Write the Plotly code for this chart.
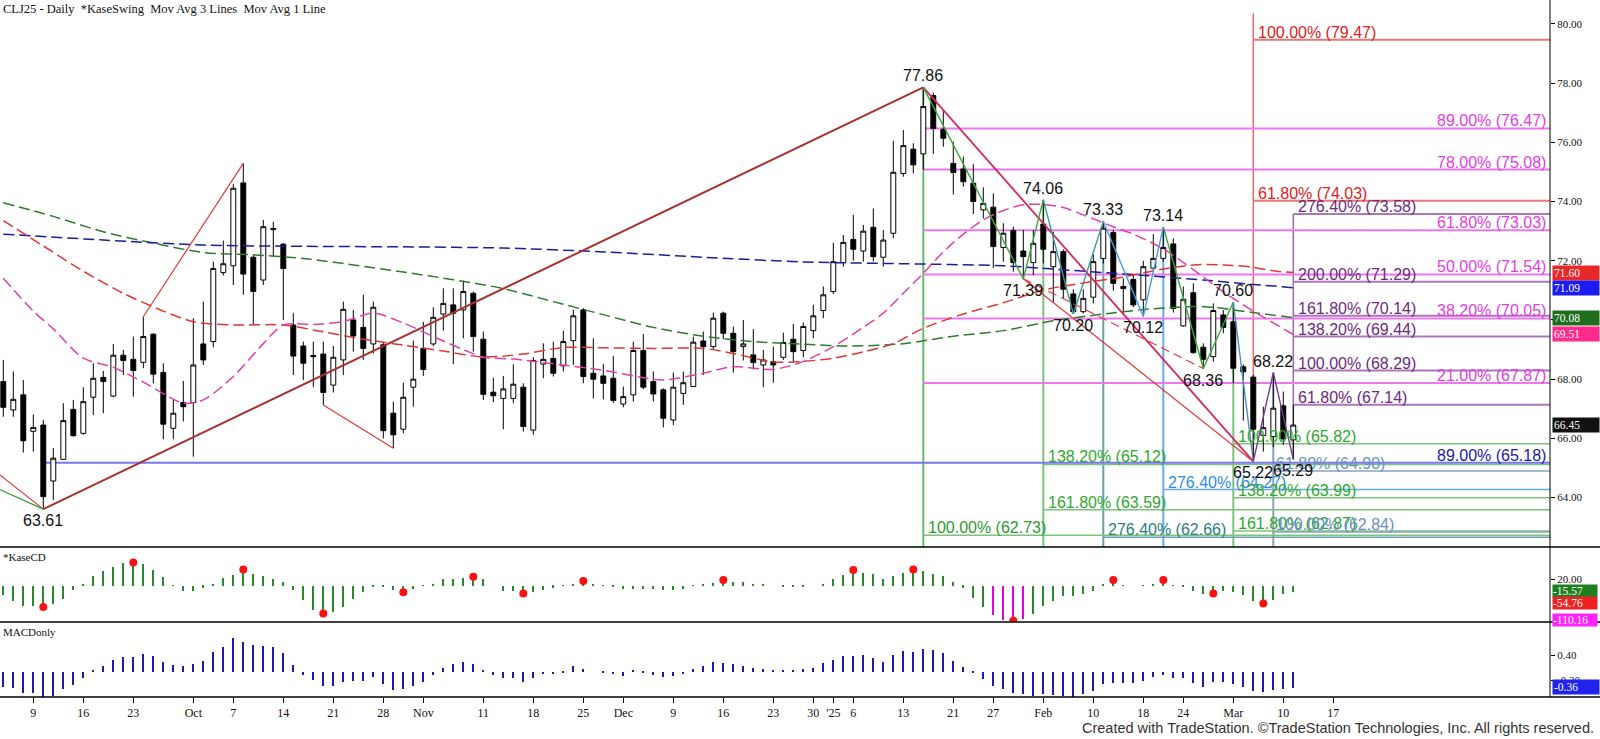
import plotly.graph_objects as go

# ---------------- data ----------------
bar_idx = list(range(130))
open_p = [67.92,66.96,67.47,66.24,66.45,64.56,65.29,66.98,66.17,67.39,
          68.06,67.43,68.81,68.67,68.57,69.52,68.23,66.34,67.21,67.21,
          69.19,69.27,71.60,71.83,74.63,72.12,71.35,73.05,72.56,69.83,
          69.12,68.80,68.85,67.80,68.65,70.00,69.75,69.19,69.16,66.85,
          66.31,67.73,69.04,69.19,70.20,70.51,70.34,70.90,69.35,67.56,
          67.35,67.35,67.73,66.28,68.51,68.70,68.45,69.30,70.34,68.20,
          68.11,68.03,67.16,67.47,68.97,67.92,67.64,66.62,67.52,67.75,
          69.29,69.10,70.23,69.55,69.10,68.82,68.48,68.59,68.74,69.35,
          68.97,69.64,70.32,70.96,71.94,72.72,72.33,73.13,72.12,72.93,
          74.95,75.77,75.61,77.58,76.44,75.29,75.10,74.62,73.72,73.81,
          72.45,73.02,72.33,71.94,73.24,71.80,72.31,70.88,70.28,70.77,
          72.08,72.95,71.13,71.37,70.68,71.75,72.08,72.57,69.80,70.92,
          69.08,68.76,70.17,69.94,68.42,68.07,66.10,66.06,67.10,65.95]
high_p = [68.65,68.26,67.97,66.81,66.62,65.67,67.19,67.30,67.73,68.54,
          68.28,69.19,68.99,69.44,70.11,69.55,68.54,67.30,67.94,70.06,
          70.62,71.97,72.68,74.59,75.29,72.20,73.38,73.32,72.60,70.23,
          69.27,69.27,69.27,69.12,70.62,70.34,70.85,70.62,69.24,67.24,
          67.88,69.30,69.94,70.43,71.07,71.07,71.33,70.96,69.61,68.05,
          68.11,68.50,67.86,68.74,69.21,69.27,69.64,70.34,70.40,69.38,
          68.51,68.78,67.75,69.27,69.53,68.26,67.69,68.22,68.26,69.44,
          69.61,70.25,70.28,69.78,70.00,69.69,68.99,69.10,69.57,69.87,
          69.91,70.51,71.13,72.61,72.87,73.55,73.21,73.77,73.04,76.05,
          76.42,75.97,77.86,77.68,77.09,76.02,75.52,75.26,74.48,74.28,
          73.27,73.15,73.04,73.04,74.06,72.98,72.39,71.04,71.04,72.22,
          73.33,73.04,71.41,71.52,72.00,72.90,73.14,72.76,71.13,71.24,
          69.21,70.56,70.34,70.60,68.50,68.15,67.07,68.22,67.58,67.13]
low_p = [66.73,66.73,65.52,65.55,63.61,63.92,65.29,66.06,66.12,66.79,
         66.85,67.39,68.14,67.41,68.37,67.86,65.97,65.97,66.57,65.38,
         68.48,69.08,71.50,71.18,70.85,69.83,71.18,72.14,70.00,68.14,
         67.97,67.73,67.13,67.55,68.14,68.93,68.65,68.87,66.00,65.67,
         66.17,67.07,68.11,69.12,69.64,68.51,69.38,68.93,67.30,67.22,
         66.31,67.19,66.23,66.12,68.03,68.09,68.26,68.48,67.86,67.35,
         67.32,67.19,67.05,67.24,67.66,67.24,66.37,66.45,67.13,67.75,
         68.14,69.02,69.35,68.22,68.63,68.33,67.73,67.88,68.65,68.59,
         68.74,69.38,70.06,70.88,71.80,72.00,71.97,71.97,71.80,72.76,
         74.84,74.95,75.07,75.61,75.85,74.24,74.50,73.58,73.43,71.75,
         71.97,71.63,71.39,71.52,71.91,70.60,70.73,70.20,70.22,70.56,
         71.91,70.99,70.22,70.43,70.12,71.69,71.97,70.25,69.77,68.85,
         68.36,68.59,69.55,67.86,66.60,65.22,65.55,65.70,65.78,65.29]
close_p = [67.05,67.32,65.92,66.37,64.03,65.33,66.60,66.09,67.24,68.03,
           67.92,68.81,68.63,68.29,69.44,68.17,66.48,66.85,67.07,68.48,
           68.65,71.74,71.90,74.45,71.55,70.96,73.15,73.09,71.74,68.78,
           68.54,68.76,67.55,68.74,70.36,69.46,69.04,70.43,66.26,66.12,
           67.39,68.00,68.33,70.09,70.56,70.23,70.96,69.44,67.49,67.44,
           67.67,67.83,66.40,68.63,68.67,68.20,69.27,70.14,68.09,68.00,
           67.86,67.28,67.41,68.97,67.73,67.50,66.68,67.73,67.88,69.25,
           69.10,70.06,69.55,68.93,69.19,68.56,68.65,68.48,69.24,68.93,
           69.78,70.14,70.85,71.97,72.62,72.39,73.00,72.14,72.70,74.99,
           75.89,75.24,77.21,76.47,76.14,74.98,74.67,74.00,73.94,72.48,
           72.93,71.94,72.14,72.59,72.39,72.31,71.04,70.28,70.73,71.97,
           73.10,71.24,71.06,70.51,71.80,72.08,72.45,70.39,70.70,68.90,
           68.67,70.32,69.75,68.37,68.25,66.31,66.36,67.02,65.98,66.45]

tick_idx = [3,8,13,19,23,28,33,38,42,48,53,58,62,67,72,77,81,83,85,90,95,99,104,109,114,118,123,128,133]
tick_text = ["9","16","23","Oct","7","14","21","28","Nov","11","18","25","Dec","9","16","23","30","'25","6","13","21","27","Feb","10","18","24","Mar","10","17"]

ma_green_idx = [0,5,10,15,20,25,30,35,40,45,50,55,60,65,70,75,80,85,90,95,100,105,110,115,120,125,129]
ma_green_val = [73.96,73.5,72.98,72.6,72.28,72.2,72.08,71.86,71.62,71.36,71.06,70.62,70.18,69.75,69.45,69.27,69.18,69.12,69.2,69.45,69.64,69.97,70.2,70.38,70.45,70.25,70.08]
ma_blue_idx = [0,10,20,30,40,50,60,70,80,90,100,105,110,115,120,125,129]
ma_blue_val = [72.90,72.7,72.53,72.49,72.47,72.43,72.3,72.12,71.96,71.9,71.83,71.72,71.6,71.48,71.35,71.2,71.09]
ma_red_idx = [0,4,8,12,16,19,23,28,32,36,40,44,48,52,56,60,65,70,73,77,80,83,86,89,92,96,100,104,108,112,116,119,122,125,127,129]
ma_red_val = [73.36,72.5,71.65,70.9,70.3,69.94,69.83,69.83,69.6,69.35,69.15,68.95,68.75,68.85,69.07,69.06,69.04,69.04,68.87,68.58,68.6,68.71,68.92,69.2,69.72,70.2,70.58,71.01,71.25,71.45,71.72,71.86,71.86,71.78,71.66,71.60]
ma_mag_idx = [0,3,5,8,11,14,18,20,23,26,28,31,34,37,40,43,46,48,51,55,60,64,66,70,73,77,80,83,86,88,90,92,94,96,98,100,102,104,106,108,111,113,116,119,122,125,127,129]
ma_mag_val = [71.41,70.3,69.7,68.71,68.4,67.9,67.19,67.3,68.09,69.2,69.83,69.85,69.95,70.23,69.9,69.44,69.0,68.74,68.68,68.52,68.3,68.05,67.97,68.2,68.42,68.33,68.6,69.1,69.75,70.23,70.9,71.58,72.3,72.9,73.38,73.7,73.89,73.9,73.8,73.55,73.15,72.9,72.4,71.7,70.95,70.3,69.9,69.51]

# swings
zz_idx = [92,102,104,107,110,114,116,120,123,125,127,129]
zz_val = [77.86,71.39,74.06,70.20,73.33,70.12,73.14,68.36,70.60,65.22,68.22,65.29]
zz_col = ["#3aa83a","#3aa83a","#3a9a9a","#3a9a9a","#4a9ee0","#4a9ee0","#3aa83a","#3aa83a","#4a90c0","#7a3a8a","#7a3a8a"]
swing_lbl_idx = [4,92,102,104,107,110,114,116,120,123,125,127,129]
swing_lbl_val = [63.61,77.86,71.39,74.06,70.20,73.33,70.12,73.14,68.36,70.60,65.22,68.22,65.29]
swing_lbl_up = [False,True,False,True,False,True,False,True,False,True,False,True,False]

long_up_idx = [4,92];   long_up_val = [63.61,77.86]
down_a_idx = [92,125];  down_a_val = [77.86,65.22]
down_b_idx = [102,125]; down_b_val = [71.39,65.22]
dash_tr_idx = [102,120]; dash_tr_val = [71.39,68.36]
red_seg1_idx = [14,24];  red_seg1_val = [70.11,75.29]
red_seg2_idx = [32,39];  red_seg2_val = [67.13,65.67]
edge_red_idx = [-0.4,4]; edge_red_val = [64.78,63.61]
edge_grn_idx = [-0.4,4]; edge_grn_val = [64.28,63.61]

# fib levels
fib_mag_pct = ["89.00%","78.00%","61.80%","50.00%","38.20%","21.00%"]
fib_mag_val = [76.47,75.08,73.03,71.54,70.05,67.87]
fib_red_pct = ["100.00%","61.80%"];  fib_red_val = [79.47,74.03]
fib_pur_pct = ["276.40%","200.00%","161.80%","138.20%","100.00%","61.80%"]
fib_pur_val = [73.58,71.29,70.14,69.44,68.29,67.14]
fib_g1_pct = ["100.00%"]; fib_g1_val = [62.73]
fib_g2_pct = ["138.20%","161.80%"]; fib_g2_val = [65.12,63.59]
fib_teal_pct = ["276.40%"]; fib_teal_val = [62.66]
fib_blue_pct = ["276.40%"]; fib_blue_val = [64.27]
fib_g3_pct = ["100.00%","138.20%","161.80%"]; fib_g3_val = [65.82,63.99,62.87]
fib_grey_pct = ["61.80%","100.00%"]; fib_grey_val = [64.90,62.84]
fib_navy_pct = ["89.00%"]; fib_navy_val = [65.18]

kase = [-30,-49,-65,-65,-62,-57,-41,-14,7,32, 48,59,73,77,69,51,29,2,-18,-16,
        -6,7,26,34,45,39,32,21,13,-14, -46,-78,-89,-85,-67,-41,-19,-3,-3,-14,
        -21,-9,2,7,20,21,26,23,21,0, -16,-17,-28,-21,-14,-6,2,7,10,5,
        2,-3,-11,-11,-11,-9,-14,-14,-11,2, 4,10,13,13,11,7,4,0,-3,-3,
        -3,0,7,21,34,47,42,39,23,31, 42,55,47,37,31,13,-6,-38,-67,-94,
        -110,-117,-105,-91,-65,-49,-33,-33,-25,-17, 4,13,2,0,2,7,13,2,-3,-17,
        -25,-28,-17,-19,-30,-48,-57,-46,-28,-19]
kase_extreme_idx = [99,100,101,102]
kase_dot_idx = [4,13,24,32,40,47,52,58,72,85,91,101,111,116,121,126]
kase_dot_val = [-68,74,52,-89,-21,29,-25,15,18,50,52,-112,18,18,-25,-57]

macd = [-0.36,-0.40,-0.50,-0.50,-0.62,-0.58,-0.42,-0.32,-0.14,0.02, 0.14,0.28,0.36,0.35,0.42,0.38,0.24,0.16,0.14,0.19,
        0.26,0.48,0.60,0.82,0.72,0.64,0.62,0.60,0.46,0.16, -0.08,-0.20,-0.34,-0.34,-0.24,-0.22,-0.22,-0.12,-0.30,-0.44,
        -0.42,-0.34,-0.24,-0.08,0.08,0.18,0.24,0.19,0.02,-0.08, -0.14,-0.16,-0.24,-0.14,-0.06,-0.06,-0.02,0.14,0.06,0.0,
        -0.04,-0.06,-0.10,0.02,-0.04,-0.08,-0.12,-0.10,-0.06,0.06, 0.14,0.24,0.22,0.18,0.14,0.10,0.06,0.04,0.04,0.04,
        0.06,0.08,0.20,0.28,0.38,0.38,0.40,0.32,0.24,0.40, 0.50,0.48,0.54,0.52,0.44,0.26,0.12,-0.04,-0.18,-0.34,
        -0.42,-0.50,-0.54,-0.58,-0.54,-0.56,-0.58,-0.60,-0.54,-0.46, -0.30,-0.28,-0.28,-0.28,-0.22,-0.12,-0.08,-0.14,-0.16,-0.26,
        -0.36,-0.24,-0.24,-0.30,-0.36,-0.46,-0.48,-0.44,-0.42,-0.38]

main_boxes = [("71.60",71.60,"#e82828"),("71.09",71.09,"#1c1cf0"),("70.08",70.08,"#1e6e1e"),("69.51",69.51,"#ff2a8a"),("66.45",66.45,"#111111")]
kase_boxes = [("-15.57",-15.57,"#1f7f1f"),("-54.76",-54.76,"#ee2222"),("-110.16",-110.16,"#ff22ff")]
macd_boxes = [("-0.36",-0.36,"#2222ee")]

# ---------------- layout geometry ----------------
W, H = 1600, 739
PL, PR, PT, PB = 0, 50, 0, 42
PH = H - PT - PB
XR = [-0.33, 154.67]
Y1 = [62.33, 80.81]
Y2 = [-116.2, 123.8]
Y3 = [-0.607, 1.193]
d1 = 1 - 547 / PH
d2 = 1 - 622 / PH

def yp(px):
    return 1 - px / PH

fig = go.Figure()

fig.add_trace(go.Candlestick(
    x=bar_idx, open=open_p, high=high_p, low=low_p, close=close_p,
    increasing=dict(line=dict(color="black", width=1), fillcolor="white"),
    decreasing=dict(line=dict(color="black", width=1), fillcolor="black"),
    whiskerwidth=0, showlegend=False, hoverinfo="skip"))

def ma(xs, ys, col):
    fig.add_trace(go.Scatter(x=xs, y=ys, mode="lines", line=dict(color=col, width=1.5, dash="11px,5px", shape="spline", smoothing=0.8),
                             showlegend=False, hoverinfo="skip"))

ma(ma_green_idx, ma_green_val, "#2e7a2e")
ma(ma_blue_idx, ma_blue_val, "#1c1c9c")
ma(ma_red_idx, ma_red_val, "#e03535")
ma(ma_mag_idx, ma_mag_val, "#e040a8")

def seg(xs, ys, col, w=1.3, dash="solid"):
    fig.add_trace(go.Scatter(x=xs, y=ys, mode="lines", line=dict(color=col, width=w, dash=dash),
                             showlegend=False, hoverinfo="skip", cliponaxis=True))

seg(long_up_idx, long_up_val, "#a83232", 2)
seg(down_a_idx, down_a_val, "#d42a5a", 1.8)
seg(down_b_idx, down_b_val, "#e03a3a", 1.2)
seg(dash_tr_idx, dash_tr_val, "#e03a3a", 1.2, "9px,5px")
seg(red_seg1_idx, red_seg1_val, "#e03a3a", 1.2)
seg(red_seg2_idx, red_seg2_val, "#e03a3a", 1.2)
seg(edge_red_idx, edge_red_val, "#e03a3a", 1.2)
seg(edge_grn_idx, edge_grn_val, "#3a9a3a", 1.2)
for k in range(len(zz_idx) - 1):
    seg(zz_idx[k:k+2], zz_val[k:k+2], zz_col[k], 1.4)

shapes = []
ann = []

def hline(x0, v, col, w=2):
    shapes.append(dict(type="line", xref="x", yref="y", x0=x0, x1=XR[1], y0=v, y1=v, line=dict(color=col, width=w), layer="below"))

def vline(x, v0, v1, col, w=2):
    shapes.append(dict(type="line", xref="x", yref="y", x0=x, x1=x, y0=v0, y1=v1, line=dict(color=col, width=w), layer="below"))

LF = "Liberation Sans"

def lab(x, v, text, col, anchor="left", xs=3):
    ann.append(dict(x=x, y=v, xref="x", yref="y", text=text, showarrow=False, xanchor=anchor, yanchor="bottom",
                    xshift=xs, yshift=-3, font=dict(family=LF, size=16, color=col)))

# verticals
vline(92, Y1[0], 77.86, "#6cb86c")
vline(104, Y1[0], 74.06, "#7cc47c")
vline(110, Y1[0], 73.33, "#6aa0a8")
vline(116, Y1[0], 73.14, "#6aaae8")
vline(123, Y1[0], 70.60, "#7cc47c")
vline(127, Y1[0], 68.22, "#8aa0c0")
vline(125, 65.22, 80.35, "#ee6666", 1.5)
vline(129, 65.29, fib_pur_val[0], "#9a6aaa", 1.5)

for p, v in zip(fib_mag_pct, fib_mag_val):
    hline(92, v, "#ee77ee")
    lab(XR[1], v, f"{p} ({v:.2f})", "#e23de2", "right", -2)
for p, v in zip(fib_red_pct, fib_red_val):
    hline(125, v, "#e87777")
    lab(125, v, f"{p} ({v:.2f})", "#e02020")
for p, v in zip(fib_pur_pct, fib_pur_val):
    hline(129, v, "#a878b8")
    lab(129, v, f"{p} ({v:.2f})", "#6e2a7e")
for p, v in zip(fib_g1_pct, fib_g1_val):
    hline(92, v, "#7cc47c", 1.5)
    lab(92, v, f"{p} ({v:.2f})", "#2e9a2e")
for p, v in zip(fib_g2_pct, fib_g2_val):
    hline(104, v, "#7cc47c", 1.5)
    lab(104, v, f"{p} ({v:.2f})", "#2ea82e")
for p, v in zip(fib_teal_pct, fib_teal_val):
    hline(110, v, "#6aa0a8", 1.5)
    lab(110, v, f"{p} ({v:.2f})", "#2a8080")
for p, v in zip(fib_blue_pct, fib_blue_val):
    hline(116, v, "#6aaae8", 1.5)
    lab(116, v, f"{p} ({v:.2f})", "#2f8de0")
for p, v in zip(fib_g3_pct, fib_g3_val):
    hline(123, v, "#7cc47c", 1.5)
    lab(123, v, f"{p} ({v:.2f})", "#2ea82e")
for p, v in zip(fib_grey_pct, fib_grey_val):
    hline(127, v, "#8aa0c0", 1.5)
    lab(127, v, f"{p} ({v:.2f})", "#6a90c0", "left", 1)
for p, v in zip(fib_navy_pct, fib_navy_val):
    hline(4, v, "#7878e8", 2)
    lab(XR[1], v, f"{p} ({v:.2f})", "#1a1aa0", "right", -2)

for i, v, up in zip(swing_lbl_idx, swing_lbl_val, swing_lbl_up):
    ann.append(dict(x=i, y=v, xref="x", yref="y", text=f"{v:.2f}", showarrow=False,
                    yanchor="bottom" if up else "top", yshift=1 if up else -1,
                    font=dict(family=LF, size=16, color="#111111")))

# lower panes
kase_col = ["#e000e0" if i in kase_extreme_idx else "#2a8a2a" for i in bar_idx]
fig.add_trace(go.Bar(x=bar_idx, y=kase, width=0.16, marker=dict(color=kase_col, line=dict(width=0)), yaxis="y2",
                     showlegend=False, hoverinfo="skip"))
fig.add_trace(go.Scatter(x=kase_dot_idx, y=kase_dot_val, mode="markers", marker=dict(color="#ff1010", size=8),
                         yaxis="y2", showlegend=False, hoverinfo="skip"))
fig.add_trace(go.Bar(x=bar_idx, y=macd, width=0.16, marker=dict(color="#1c1ca8", line=dict(width=0)), yaxis="y3",
                     showlegend=False, hoverinfo="skip"))

# value boxes
BF = dict(family="Liberation Serif", size=11.5, color="white")
for t, v, c in main_boxes:
    ann.append(dict(x=1, y=v, xref="paper", yref="y", text=t, showarrow=False, xanchor="left", xshift=2,
                    bgcolor=c, width=44, align="left", borderpad=1, font=BF))
for t, v, c in kase_boxes:
    ann.append(dict(x=1, y=v, xref="paper", yref="y2", text=t, showarrow=False, xanchor="left", xshift=2,
                    bgcolor=c, width=44, align="left", borderpad=0, font=BF))
for t, v, c in macd_boxes:
    ann.append(dict(x=1, y=v, xref="paper", yref="y3", text=t, showarrow=False, xanchor="left", xshift=2,
                    bgcolor=c, width=44, align="left", borderpad=1, font=BF))

# texts
SF = "Liberation Serif"
ann.append(dict(x=0, y=yp(9), xref="paper", yref="paper", text="CLJ25 - Daily  *KaseSwing  Mov Avg 3 Lines  Mov Avg 1 Line",
                showarrow=False, xanchor="left", yanchor="middle", xshift=1, font=dict(family=SF, size=12.5, color="#111")))
ann.append(dict(x=0, y=yp(557), xref="paper", yref="paper", text="*KaseCD", showarrow=False, xanchor="left",
                yanchor="middle", xshift=1, font=dict(family=SF, size=11, color="#111")))
ann.append(dict(x=0, y=yp(632), xref="paper", yref="paper", text="MACDonly", showarrow=False, xanchor="left",
                yanchor="middle", xshift=1, font=dict(family=SF, size=11, color="#111")))
ann.append(dict(x=1596 / 1550, y=yp(728), xref="paper", yref="paper",
                text="Created with TradeStation. ©TradeStation Technologies, Inc. All rights reserved.",
                showarrow=False, xanchor="right", yanchor="middle", font=dict(family=LF, size=14.5, color="#333")))

# pane borders
XP = W / (W - PR)
for py in (547, 622, 697):
    shapes.append(dict(type="line", xref="paper", yref="paper", x0=0, x1=XP, y0=yp(py), y1=yp(py), line=dict(color="black", width=1.5)))
shapes.append(dict(type="line", xref="paper", yref="paper", x0=1, x1=1, y0=0, y1=1, line=dict(color="black", width=1)))

axis_common = dict(side="right", anchor="x", showgrid=False, zeroline=False, ticks="outside", ticklen=4,
                   tickcolor="black", showline=False, tickfont=dict(family=SF, size=11, color="#111"), fixedrange=True)

fig.update_layout(
    width=W, height=H, margin=dict(l=PL, r=PR, t=PT, b=PB),
    paper_bgcolor="white", plot_bgcolor="white", showlegend=False, bargap=0,
    xaxis=dict(range=XR, domain=[0, 1], anchor="y3", showgrid=False, zeroline=False, rangeslider=dict(visible=False),
               tickmode="array", tickvals=tick_idx, ticktext=tick_text, ticks="outside", ticklen=5, tickcolor="black",
               tickfont=dict(family=SF, size=12, color="#111"), showline=False, fixedrange=True),
    yaxis=dict(domain=[d1, 1], range=Y1, tickvals=[64,66,68,70,72,74,76,78,80],
               ticktext=["64.00","66.00","68.00","70.00","72.00","74.00","76.00","78.00","80.00"], **axis_common),
    yaxis2=dict(domain=[d2, d1], range=Y2, tickvals=[20], ticktext=["20.00"], **axis_common),
    yaxis3=dict(domain=[0, d2], range=Y3, tickvals=[0.4, -0.2], ticktext=["0.40", "-0.20"], **axis_common),
    shapes=shapes, annotations=ann,
)
fig.update_yaxes(tickfont=dict(family=LF, size=10, color="#111"), selector=dict(domain=[d1, 1]))

fig.write_html("out.html", config={"displayModeBar": False},
               post_script="document.body.style.margin='0';document.body.style.overflow='hidden';")
